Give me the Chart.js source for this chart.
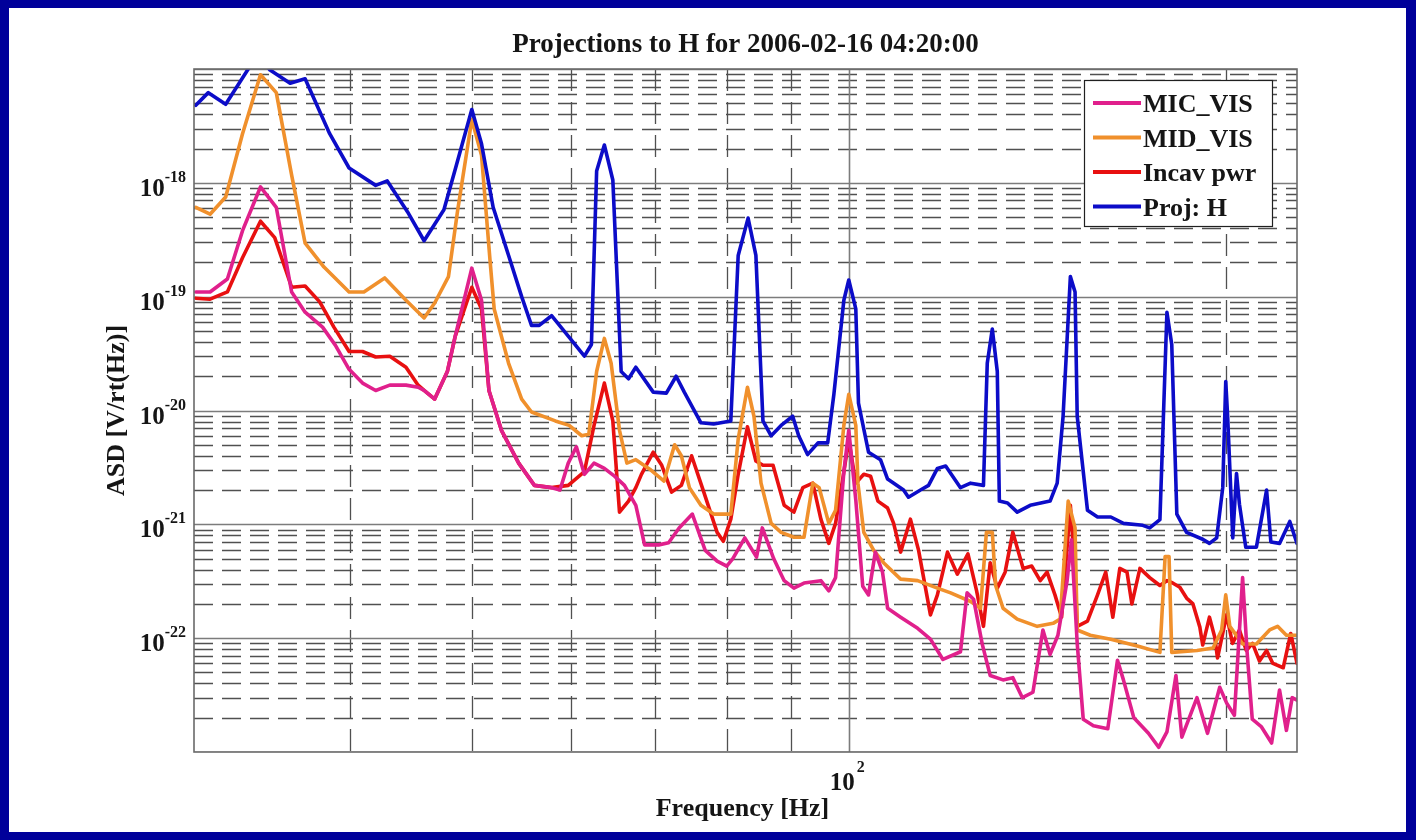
<!DOCTYPE html>
<html>
<head>
<meta charset="utf-8">
<title>Projections to H</title>
<script src="https://cdn.jsdelivr.net/npm/chart.js@4.4.1/dist/chart.umd.min.js"></script>
<style>
  html, body { margin: 0; padding: 0; background: #00009a; }
  canvas { display: block; }
</style>
</head>
<body>
<canvas id="asd" width="1416" height="840"></canvas>
<script>
const chartTitle = 'Projections to H for 2006-02-16 04:20:00';
const xAxisTitle = 'Frequency [Hz]';
const yAxisTitle = 'ASD [V/rt(Hz)]';
const seriesLabels = ['MIC_VIS', 'MID_VIS', 'Incav pwr', 'Proj: H'];
const seriesColors = ['#e0208c', '#f0902c', '#e81010', '#0c0cc8'];

// axis limits and ticks
const xRange = [30, 228];
const yRange = [1e-23, 1e-17];
const xMajorTicks = [100];
const xMinorTicks = [40, 50, 60, 70, 80, 90, 200];
const xLabelTicks = [100];
const xLabelExponents = ['2'];
const yDecadeTicks = [1e-23, 1e-22, 1e-21, 1e-20, 1e-19, 1e-18, 1e-17];
const yMinorSteps = [2, 3, 4, 5, 6, 7, 8, 9];
const yLabelTicks = [1e-22, 1e-21, 1e-20, 1e-19, 1e-18];
const yLabelExponents = ['-22', '-21', '-20', '-19', '-18'];

// MIC_VIS
const micFreq = [
  30.1, 30.9, 31.9, 32.8, 33.9, 34.9, 35.9, 36.8, 38.0, 38.9,
  39.9, 40.9, 41.9, 43.0, 44.3, 45.3, 45.8, 46.7, 47.8, 48.5,
  50.0, 50.9, 51.6, 52.8, 54.5, 56.1, 57.9, 58.8, 59.7, 60.6,
  61.5, 62.6, 63.8, 65.0, 66.2, 67.6, 68.7, 70.5, 71.8, 73.2,
  75.0, 76.8, 78.5, 79.9, 80.8, 82.6, 84.4, 85.3, 87.1, 88.8,
  90.4, 92.1, 95.0, 96.4, 97.6, 99.1, 100, 101.3, 102.6, 103.7,
  105.0, 106.4, 107.4, 110, 113.5, 116.2, 118.9, 122.8, 124.3, 125.8,
  127.8, 129.7, 132.8, 135.2, 137.6, 140.3, 142.9, 144.8, 146.9, 149.4,
  150.6, 152.2, 153.9, 156.8, 161.0, 163.9, 165.7, 168.9, 173.5, 176.8,
  179.5, 182.5, 184.5, 189.7, 193.4, 197.8, 200.3, 203.2, 206.3, 208.0,
  210.0, 213.6, 217.6, 220.8, 223.6, 226.0, 228
];
const micAsd = [
  1.1e-19, 1.1e-19, 1.43e-19, 3.8e-19, 9.2e-19, 6.1e-19, 1.1e-19, 7.3e-20, 5.4e-20, 3.75e-20,
  2.3e-20, 1.74e-20, 1.5e-20, 1.67e-20, 1.67e-20, 1.6e-20, 1.5e-20, 1.26e-20, 2.2e-20, 4.5e-20,
  1.78e-19, 9.3e-20, 1.5e-20, 6.7e-21, 3.45e-21, 2.2e-21, 2.1e-21, 2.0e-21, 3.45e-21, 4.8e-21,
  2.75e-21, 3.45e-21, 3.1e-21, 2.65e-21, 2.2e-21, 1.47e-21, 6.6e-22, 6.6e-22, 6.9e-22, 9.3e-22,
  1.23e-21, 5.9e-22, 4.75e-22, 4.3e-22, 5.0e-22, 7.6e-22, 5.15e-22, 9.3e-22, 5.0e-22, 3.2e-22,
  2.75e-22, 3.05e-22, 3.2e-22, 2.6e-22, 3.4e-22, 2.9e-21, 6.7e-21, 1.63e-21, 2.86e-22, 2.4e-22,
  5.7e-22, 3.8e-22, 1.83e-22, 1.53e-22, 1.22e-22, 9.8e-23, 6.5e-23, 7.6e-23, 2.5e-22, 2.2e-22,
  8.9e-23, 4.7e-23, 4.3e-23, 4.5e-23, 3.0e-23, 3.35e-23, 1.18e-22, 7.2e-23, 1.06e-22, 3.2e-22,
  7.3e-22, 9e-23, 1.94e-23, 1.7e-23, 1.6e-23, 6.4e-23, 4.3e-23, 2.0e-23, 1.46e-23, 1.1e-23,
  1.5e-23, 4.7e-23, 1.35e-23, 3.0e-23, 1.46e-23, 3.7e-23, 2.7e-23, 2.1e-23, 3.4e-22, 7.6e-23,
  1.94e-23, 1.66e-23, 1.2e-23, 3.5e-23, 1.55e-23, 3.0e-23, 2.85e-23
];

// MID_VIS
const midFreq = [
  30.1, 30.9, 31.8, 32.8, 33.9, 34.9, 35.9, 36.8, 38.1, 39.9,
  41.0, 42.6, 44.3, 45.8, 46.7, 47.9, 48.7, 50.0, 50.9, 51.7,
  52.1, 53.5, 54.8, 55.8, 58.3, 59.8, 61.2, 62.0, 62.9, 63.8,
  64.6, 65.6, 66.5, 67.6, 69.5, 71.2, 72.6, 73.5, 74.6, 76.2,
  78.0, 80.5, 81.6, 83.0, 84.0, 85.1, 86.7, 88.3, 90.4, 92.1,
  93.6, 94.7, 96.4, 97.6, 99.1, 100, 101.3, 101.7, 102.8, 104.7,
  106.6, 110, 113.5, 117.7, 120.6, 125.1, 127.4, 128.8, 130.2, 131.0,
  132.8, 136.3, 141.4, 145.6, 147.5, 149.7, 151.6, 152.2, 155.9, 161.9,
  170.3, 177.2, 178.9, 180.2, 181.1, 189.7, 195.4, 198.5, 200, 201.5,
  206.3, 211.6, 216.8, 220, 223.6, 228
];
const midAsd = [
  6.1e-19, 5.3e-19, 7.5e-19, 2.7e-18, 8.9e-18, 6.2e-18, 1.17e-18, 2.95e-19, 1.82e-19, 1.1e-19,
  1.1e-19, 1.46e-19, 9.3e-20, 6.5e-20, 8.8e-20, 1.5e-19, 5.6e-19, 3.6e-18, 1.75e-18, 2.1e-19,
  7.8e-20, 2.6e-20, 1.26e-20, 9.7e-21, 8.1e-21, 7.4e-21, 6.0e-21, 6.2e-21, 2.2e-20, 4.3e-20,
  2.6e-20, 6.7e-21, 3.45e-21, 3.7e-21, 3.0e-21, 2.4e-21, 5.0e-21, 4.0e-21, 2.1e-21, 1.47e-21,
  1.23e-21, 1.23e-21, 5.6e-21, 1.6e-20, 8.9e-21, 2.3e-21, 1.02e-21, 8.5e-22, 7.7e-22, 7.7e-22,
  2.3e-21, 2.1e-21, 1.02e-21, 1.33e-21, 7.4e-21, 1.39e-20, 7.4e-21, 2.3e-21, 8.5e-22, 5.9e-22,
  4.6e-22, 3.3e-22, 3.2e-22, 2.75e-22, 2.5e-22, 2.1e-22, 1.83e-22, 8.5e-22, 8.5e-22, 2.9e-22,
  1.83e-22, 1.47e-22, 1.27e-22, 1.35e-22, 1.47e-22, 1.6e-21, 9.3e-22, 1.18e-22, 1.06e-22, 9.8e-23,
  8.5e-23, 7.5e-23, 5.2e-22, 5.2e-22, 7.5e-23, 7.8e-23, 8.2e-23, 1.18e-22, 2.4e-22, 1.27e-22,
  8.9e-23, 8.9e-23, 1.18e-22, 1.27e-22, 1.06e-22, 1.06e-22
];

// Incav pwr
const incavFreq = [
  30.1, 30.9, 31.9, 32.8, 33.9, 34.8, 35.9, 36.8, 37.8, 38.8,
  39.9, 40.9, 41.9, 43.0, 44.3, 45.3, 45.8, 46.7, 47.8, 48.5,
  50.0, 50.9, 51.6, 52.8, 54.5, 56.1, 57.9, 59.7, 61.5, 62.6,
  63.8, 64.8, 65.6, 66.7, 67.6, 68.3, 69.8, 70.9, 72.2, 73.5,
  74.9, 76.6, 78.5, 79.4, 80.5, 81.6, 83.0, 84.3, 85.4, 87.0,
  88.8, 90.4, 91.9, 93.6, 95.0, 96.4, 97.6, 99.1, 100, 101.3,
  102.8, 104.1, 105.5, 107.4, 108.6, 110, 112, 113.7, 116.2, 117.7,
  119.9, 122.1, 124.5, 126.5, 128.1, 129.7, 131.4, 133.3, 135.2, 137.8,
  140, 142.2, 144, 146.1, 147.9, 150.3, 151.6, 152.2, 155.1, 158,
  160.4, 162.5, 164.6, 166.8, 168.3, 170.8, 173.9, 177.2, 179.5, 181.4,
  183.8, 186.1, 188.3, 190.7, 191.7, 194.1, 196.0, 197.0, 198.9, 200.3,
  202.5, 205.1, 207.7, 210.1, 212.8, 215.6, 218.1, 222.3, 225.4, 228
];
const incavAsd = [
  9.7e-20, 9.5e-20, 1.1e-19, 2.2e-19, 4.6e-19, 3.3e-19, 1.21e-19, 1.24e-19, 9.0e-20, 5.4e-20,
  3.3e-20, 3.3e-20, 2.95e-20, 3.0e-20, 2.4e-20, 1.67e-20, 1.5e-20, 1.26e-20, 2.2e-20, 4.5e-20,
  1.21e-19, 7.8e-20, 1.5e-20, 6.7e-21, 3.45e-21, 2.2e-21, 2.1e-21, 2.2e-21, 2.9e-21, 7.4e-21,
  1.74e-20, 8.1e-21, 1.28e-21, 1.6e-21, 2.1e-21, 2.75e-21, 4.3e-21, 3.3e-21, 1.92e-21, 2.2e-21,
  4.0e-21, 1.92e-21, 8.5e-22, 7.1e-22, 1.11e-21, 2.75e-21, 7.2e-21, 3.6e-21, 3.3e-21, 3.3e-21,
  1.47e-21, 1.28e-21, 2.1e-21, 2.3e-21, 1.11e-21, 6.8e-22, 1.02e-21, 2.9e-21, 5.5e-21, 2.3e-21,
  2.75e-21, 2.65e-21, 1.6e-21, 1.39e-21, 1.02e-21, 5.7e-22, 1.11e-21, 5.9e-22, 1.6e-22, 2.4e-22,
  5.7e-22, 3.65e-22, 5.5e-22, 2.6e-22, 1.27e-22, 4.6e-22, 2.75e-22, 3.8e-22, 8.5e-22, 4.1e-22,
  4.3e-22, 3.2e-22, 3.8e-22, 2.4e-22, 1.53e-22, 1.47e-21, 3.8e-22, 1.27e-22, 1.41e-22, 2.4e-22,
  3.8e-22, 1.53e-22, 4.1e-22, 3.8e-22, 2.0e-22, 4.1e-22, 3.4e-22, 2.9e-22, 3.2e-22, 3.05e-22,
  2.8e-22, 2.25e-22, 2.0e-22, 1.25e-22, 8.7e-23, 1.53e-22, 1.02e-22, 6.7e-23, 1.1e-22, 1.6e-22,
  9e-23, 1.18e-22, 7.8e-23, 9e-23, 6.3e-23, 7.8e-23, 6.0e-23, 5.5e-23, 1.1e-22, 6.0e-23
];

// Proj: H
const projFreq = [
  30.1, 30.8, 31.8, 33.7, 34.5, 35.8, 36.8, 38.5, 39.9, 41.9,
  42.8, 44.5, 45.8, 47.5, 48.6, 50.0, 50.9, 52.0, 53.5, 54.8,
  55.8, 56.6, 57.9, 59.7, 61.5, 62.3, 62.9, 63.8, 64.8, 65.8,
  66.7, 67.6, 69.8, 71.5, 72.8, 73.9, 76.2, 78.0, 80.5, 81.6,
  83.1, 84.3, 85.4, 86.7, 88.3, 90.2, 91.2, 92.7, 94.5, 96.2,
  97.3, 99.1, 100, 101.3, 101.8, 103.7, 106, 107.4, 110.6, 111.6,
  114.1, 115.8, 117.7, 119.5, 122.8, 125.1, 128.1, 129.0, 130.2, 131.4,
  131.9, 133.9, 136.3, 139.6, 144.8, 146.7, 148.3, 150.3, 151.6, 152.2,
  155.1, 158.0, 161.9, 165.7, 171.7, 173.9, 177.2, 179.5, 181.1, 182.8,
  186.1, 191.7, 194.1, 196.7, 198.9, 200, 200.7, 202.6, 204.0, 205.1,
  207.5, 211.6, 215.6, 217.3, 220.8, 225.0, 228
];
const projAsd = [
  4.8e-18, 6.2e-18, 4.9e-18, 1.33e-17, 9.8e-18, 7.5e-18, 8.2e-18, 2.7e-18, 1.35e-18, 9.5e-19,
  1.04e-18, 5.4e-19, 3.1e-19, 5.8e-19, 1.43e-18, 4.4e-18, 2.2e-18, 6.1e-19, 2.3e-19, 1.0e-19,
  5.6e-20, 5.6e-20, 6.8e-20, 4.5e-20, 3.0e-20, 3.8e-20, 1.27e-18, 2.15e-18, 1.06e-18, 2.2e-20,
  1.9e-20, 2.4e-20, 1.45e-20, 1.42e-20, 2.0e-20, 1.45e-20, 7.8e-21, 7.6e-21, 8.1e-21, 2.3e-19,
  4.9e-19, 2.3e-19, 8.1e-21, 6.0e-21, 7.4e-21, 8.9e-21, 6.0e-21, 4.1e-21, 5.2e-21, 5.2e-21,
  1.39e-20, 9.3e-20, 1.4e-19, 7.8e-20, 1.16e-20, 4.3e-21, 3.7e-21, 2.5e-21, 2.0e-21, 1.73e-21,
  2.0e-21, 2.2e-21, 3.1e-21, 3.25e-21, 2.1e-21, 2.3e-21, 2.2e-21, 2.6e-20, 5.2e-20, 2.2e-20,
  1.6e-21, 1.54e-21, 1.28e-21, 1.47e-21, 1.6e-21, 2.3e-21, 8.9e-21, 1.5e-19, 1.1e-19, 8.9e-21,
  1.33e-21, 1.16e-21, 1.16e-21, 1.02e-21, 9.8e-22, 9.3e-22, 1.1e-21, 7.3e-20, 3.8e-20, 1.23e-21,
  8.5e-22, 7.4e-22, 6.8e-22, 7.6e-22, 2.1e-21, 1.8e-20, 8.9e-21, 7.6e-22, 2.8e-21, 1.5e-21,
  6.3e-22, 6.3e-22, 2.0e-21, 7.0e-22, 6.8e-22, 1.06e-21, 6.8e-22
];

const FONT = '"Liberation Serif", "Times New Roman", serif';
const TEXT_COLOR = '#151515';

function toPoints(freq, asd) {
  return freq.map((f, i) => ({ x: f, y: asd[i] }));
}

function strokeLine(ctx, x1, y1, x2, y2) {
  ctx.beginPath();
  ctx.moveTo(x1, y1);
  ctx.lineTo(x2, y2);
  ctx.stroke();
}

// background, grid, tick labels, titles and the boxed legend
const matlabFrame = {
  id: 'matlabFrame',
  beforeDraw(chart) {
    const { ctx, width, height } = chart;
    ctx.save();
    ctx.fillStyle = '#00009a';
    ctx.fillRect(0, 0, width, height);
    ctx.fillStyle = '#ffffff';
    ctx.fillRect(9, 8, 1397, 824);
    ctx.restore();
  },
  beforeDatasetsDraw(chart) {
    const { ctx, chartArea: a, scales: { x, y } } = chart;
    ctx.save();
    ctx.beginPath();
    ctx.rect(a.left, a.top, a.right - a.left, a.bottom - a.top);
    ctx.clip();

    // minor grid: dashed
    ctx.strokeStyle = '#505050';
    ctx.lineWidth = 1.3;
    ctx.setLineDash([19, 9]);
    yDecadeTicks.forEach((d) => {
      yMinorSteps.forEach((m) => {
        const py = Math.round(y.getPixelForValue(d * m)) + 0.5;
        strokeLine(ctx, a.left, py, a.right, py);
      });
    });
    ctx.setLineDash([22, 11]);
    xMinorTicks.forEach((v) => {
      const px = Math.round(x.getPixelForValue(v)) + 0.5;
      strokeLine(ctx, px, a.top, px, a.bottom);
    });

    // major grid: solid
    ctx.setLineDash([]);
    ctx.strokeStyle = '#7c7c7c';
    ctx.lineWidth = 1.6;
    yDecadeTicks.forEach((d) => {
      const py = Math.round(y.getPixelForValue(d)) + 0.5;
      strokeLine(ctx, a.left, py, a.right, py);
    });
    xMajorTicks.forEach((v) => {
      const px = Math.round(x.getPixelForValue(v)) + 0.5;
      strokeLine(ctx, px, a.top, px, a.bottom);
    });
    ctx.restore();
  },
  afterDatasetsDraw(chart) {
    const { ctx, chartArea: a, scales: { x, y } } = chart;
    ctx.save();

    // axes box
    ctx.strokeStyle = '#6a6a6a';
    ctx.lineWidth = 1.6;
    ctx.strokeRect(a.left, a.top, a.right - a.left, a.bottom - a.top);

    ctx.fillStyle = TEXT_COLOR;
    ctx.textBaseline = 'alphabetic';

    // y tick labels 10^n
    yLabelTicks.forEach((v, i) => {
      const py = y.getPixelForValue(v);
      ctx.font = `bold 16px ${FONT}`;
      const ew = ctx.measureText(yLabelExponents[i]).width;
      const ex = a.left - 8 - ew;
      ctx.textAlign = 'left';
      ctx.fillText(yLabelExponents[i], ex, py - 1);
      ctx.font = `bold 25px ${FONT}`;
      ctx.textAlign = 'right';
      ctx.fillText('10', ex, py + 13);
    });

    // x tick labels 10^n
    xLabelTicks.forEach((v, i) => {
      const px = x.getPixelForValue(v);
      ctx.font = `bold 25px ${FONT}`;
      ctx.textAlign = 'right';
      ctx.fillText('10', px + 6, a.bottom + 38);
      ctx.font = `bold 16px ${FONT}`;
      ctx.textAlign = 'left';
      ctx.fillText(xLabelExponents[i], px + 8, a.bottom + 20);
    });

    // axis titles
    ctx.font = `bold 26px ${FONT}`;
    ctx.textAlign = 'center';
    ctx.fillText(xAxisTitle, (a.left + a.right) / 2 - 3, a.bottom + 64);
    ctx.save();
    ctx.translate(124, (a.top + a.bottom) / 2);
    ctx.rotate(-Math.PI / 2);
    ctx.fillText(yAxisTitle, 0, 0);
    ctx.restore();

    // legend box
    const lx = 1084;
    const ly = 80;
    ctx.fillStyle = '#ffffff';
    ctx.fillRect(lx, ly, 188, 146);
    ctx.strokeStyle = '#202020';
    ctx.lineWidth = 1.2;
    ctx.strokeRect(lx + 0.5, ly + 0.5, 188, 146);
    chart.data.datasets.forEach((ds, i) => {
      const rowY = ly + 23 + i * 34.5;
      ctx.strokeStyle = ds.borderColor;
      ctx.lineWidth = 4;
      strokeLine(ctx, lx + 9, rowY, lx + 57, rowY);
      ctx.fillStyle = TEXT_COLOR;
      ctx.font = `bold 26px ${FONT}`;
      ctx.textAlign = 'left';
      ctx.fillText(ds.label, lx + 59, rowY + 9);
    });
    ctx.restore();
  },
};

const seriesData = [
  toPoints(micFreq, micAsd),
  toPoints(midFreq, midAsd),
  toPoints(incavFreq, incavAsd),
  toPoints(projFreq, projAsd),
];
const drawOrder = [1, 2, 3, 0];

const datasets = seriesLabels.map((label, i) => ({
  label,
  data: seriesData[i],
  borderColor: seriesColors[i],
  backgroundColor: seriesColors[i],
  borderWidth: 3.6,
  pointRadius: 0,
  tension: 0,
  fill: false,
  borderJoinStyle: 'round',
  borderCapStyle: 'round',
  order: drawOrder[i],
}));

// eslint-disable-next-line no-undef, no-new
new Chart(document.getElementById('asd'), {
  type: 'line',
  data: { datasets },
  plugins: [matlabFrame],
  options: {
    responsive: false,
    animation: false,
    devicePixelRatio: 1,
    events: [],
    parsing: false,
    layout: {
      padding: { left: 194, right: 119, top: 0, bottom: 88 },
    },
    plugins: {
      legend: { display: false },
      tooltip: { enabled: false },
      title: {
        display: true,
        text: chartTitle,
        color: TEXT_COLOR,
        font: { family: FONT, size: 27, weight: 'bold', lineHeight: 1.2 },
        padding: { top: 29, bottom: 7.6 },
      },
    },
    scales: {
      x: { type: 'logarithmic', min: xRange[0], max: xRange[1], display: false },
      y: { type: 'logarithmic', min: yRange[0], max: yRange[1], display: false },
    },
  },
});
</script>
</body>
</html>
